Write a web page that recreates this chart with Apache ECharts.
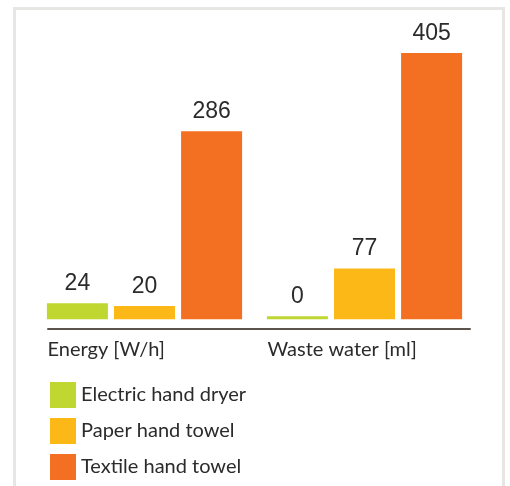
<!DOCTYPE html>
<html>
<head>
<meta charset="utf-8">
<script src="https://cdn.jsdelivr.net/npm/echarts@6/dist/echarts.min.js"></script>
<style>
  html, body { margin: 0; padding: 0; background: #fff; }
  #wrap { position: relative; width: 510px; height: 486px; }
  #frame {
    position: absolute; left: 13px; top: 7px; width: 486px; height: 486px;
    border: 3px solid #e8e6e3; border-bottom: none; box-sizing: content-box;
  }
  #chart { position: absolute; left: 0; top: 0; width: 510px; height: 486px; }
</style>
</head>
<body>
<div id="wrap">
  <div id="frame"></div>
  <div id="chart"></div>
</div>
<script>
// categories and values
const categories = ["Energy [W/h]", "Waste water [ml]"];
const seriesNames = ["Electric hand dryer", "Paper hand towel", "Textile hand towel"];
const dryer = [24, 0];
const paper = [20, 77];
const textile = [286, 405];

const colors = ["#bfd730", "#fbb817", "#f36f21"];

function bar(name, data, color) {
  return {
    name: name,
    type: "bar",
    data: data,
    barWidth: 61,
    barGap: "10%",
    barMinHeight: 3,
    itemStyle: { color: color },
    label: {
      show: true,
      position: "top",
      distance: 8,
      color: "#2b2b2b",
      fontFamily: "Liberation Sans",
      fontSize: 23
    }
  };
}

const ec = echarts.init(document.getElementById("chart"));
ec.setOption({
  animation: false,
  grid: [
    { left: 34.5, right: 35.5, top: 53, bottom: 157 },
    // only used for the baseline rule
    { left: 48, right: 40, top: 53, bottom: 157 }
  ],
  xAxis: [
    {
      type: "category",
      data: categories,
      gridIndex: 0,
      axisLine: { show: false },
      axisTick: { show: false },
      axisLabel: {
        margin: 11,
        formatter: v => "{a|" + v + "}",
        rich: {
          a: {
            width: 194,
            align: "left",
            color: "#2b2b2b",
            fontFamily: "Lato",
            fontSize: 20
          }
        }
      }
    },
    {
      type: "value",
      gridIndex: 1,
      axisLine: { show: true, onZero: false, lineStyle: { color: "#5b534d", width: 2 } },
      axisTick: { show: false },
      axisLabel: { show: false },
      splitLine: { show: false }
    }
  ],
  yAxis: [
    { type: "value", min: -15, max: 405, show: false, gridIndex: 0 },
    { type: "value", show: false, gridIndex: 1 }
  ],
  legend: {
    orient: "vertical",
    left: 50,
    top: 382,
    padding: 0,
    itemWidth: 26,
    itemHeight: 26,
    itemGap: 10,
    icon: "rect",
    data: seriesNames,
    textStyle: { color: "#2b2b2b", fontFamily: "Lato", fontSize: 20 }
  },
  series: [
    bar(seriesNames[0], dryer, colors[0]),
    bar(seriesNames[1], paper, colors[1]),
    bar(seriesNames[2], textile, colors[2])
  ]
});
</script>
</body>
</html>
